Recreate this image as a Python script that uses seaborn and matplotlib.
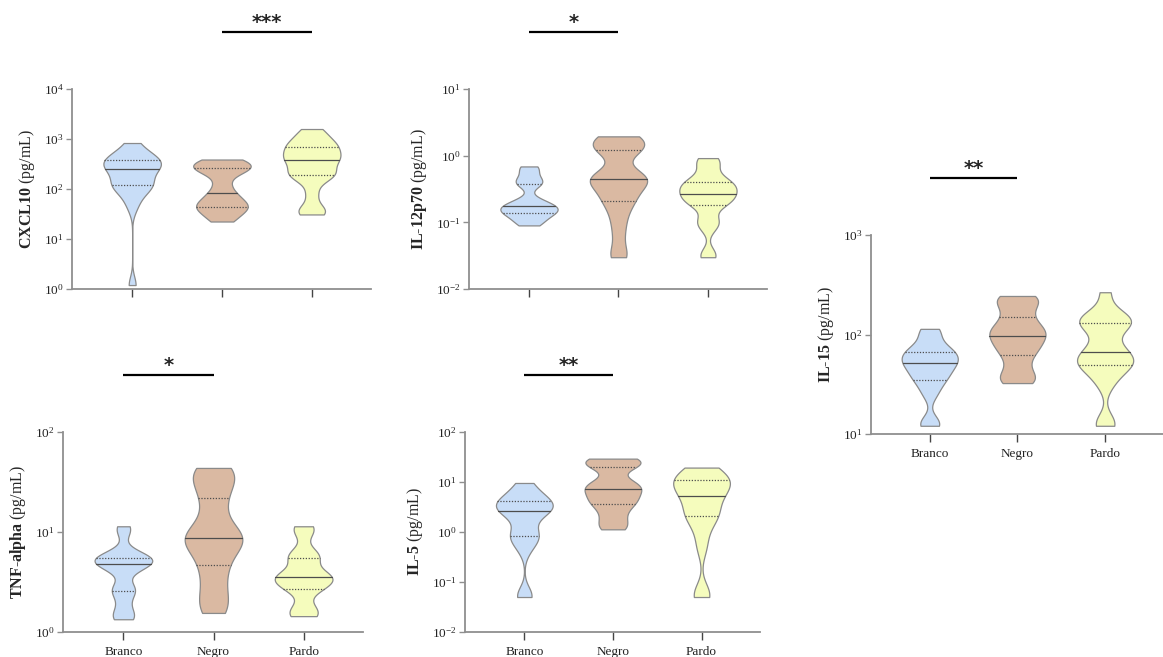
import numpy as np
import pandas as pd
import matplotlib
matplotlib.use("Agg")
import matplotlib.pyplot as plt
import matplotlib.transforms as mtransforms
from matplotlib.collections import LineCollection, PolyCollection
from matplotlib.ticker import LogLocator, LogFormatterSciNotation, NullLocator
import seaborn as sns

groups = ["Branco", "Negro", "Pardo"]
colors = ["#c8ddf7", "#dab9a2", "#f5fcbd"]

# CXCL10 (pg/mL)
cxcl10_branco = [1.2, 44.7, 70.8, 100, 112, 126, 132, 141, 224, 251, 263, 282, 316, 355, 398, 417, 447, 562, 832]
cxcl10_negro = [22.4, 28.2, 35.5, 39.8, 44.7, 50.1, 56.2, 70.8, 85.1, 126, 200, 240, 263, 282, 316, 355, 389]
cxcl10_pardo = [31, 35, 42, 79, 141, 191, 195, 200, 251, 316, 372, 398, 447, 501, 562, 708, 759, 794, 1000, 1259, 1585]

# IL-12p70 (pg/mL)
il12_branco = [0.09, 0.10, 0.112, 0.126, 0.135, 0.141, 0.151, 0.158, 0.166, 0.178, 0.182, 0.2, 0.224, 0.355, 0.398, 0.417, 0.5, 0.63, 0.69]
il12_negro = [0.03, 0.035, 0.063, 0.1, 0.141, 0.2, 0.211, 0.251, 0.316, 0.355, 0.398, 0.447, 0.462, 0.479, 0.501, 0.562, 1.12, 1.2, 1.26, 1.41, 1.58, 1.78, 1.91, 1.95]
il12_pardo = [0.03, 0.034, 0.083, 0.1, 0.112, 0.18, 0.19, 0.209, 0.224, 0.251, 0.269, 0.295, 0.316, 0.347, 0.372, 0.398, 0.427, 0.5, 0.708, 0.832, 0.92]

# TNF-alpha (pg/mL)
tnf_branco = [1.34, 1.41, 1.58, 2.0, 2.51, 2.67, 2.82, 3.98, 4.47, 4.79, 4.9, 5.01, 5.25, 5.5, 5.53, 5.75, 6.31, 10.0, 11.4]
tnf_negro = [1.55, 1.91, 2.51, 3.55, 4.71, 6.03, 7.41, 8.13, 8.77, 9.55, 11.2, 15.8, 22.0, 28.2, 35.5, 39.8, 43.7]
tnf_pardo = [1.44, 1.51, 1.78, 2.63, 2.77, 3.16, 3.39, 3.52, 3.63, 3.98, 5.25, 5.71, 6.31, 10.0, 11.4]

# IL-5 (pg/mL)
il5_branco = [0.05, 0.056, 0.447, 0.708, 0.794, 0.891, 1.26, 2.24, 2.63, 2.67, 2.82, 3.16, 3.98, 4.17, 4.27, 5.01, 7.08, 9.55]
il5_negro = [1.13, 1.41, 2.0, 2.82, 3.69, 4.17, 5.01, 6.03, 7.36, 7.94, 8.91, 11.2, 19.6, 22.4, 25.1, 27.5, 29.3]
il5_pardo = [0.05, 0.06, 0.501, 1.12, 2.06, 2.14, 2.51, 3.98, 5.25, 6.31, 7.59, 8.91, 10.8, 11.2, 12.6, 15.8, 19.4]

# IL-15 (pg/mL)
il15_branco = [12.1, 13.2, 25.1, 31.6, 36.5, 39.8, 44.7, 50.1, 52.7, 56.2, 60.3, 66.1, 70.8, 75.9, 100, 114]
il15_negro = [32.5, 35.5, 39.8, 50.1, 62.5, 70.8, 79.4, 89.1, 97.7, 105, 115, 126, 149, 178, 214, 229, 244]
il15_pardo = [12.1, 13.2, 31.6, 39.8, 48.5, 50.1, 52.5, 56.2, 63.1, 69.7, 79.4, 112, 126, 132, 141, 150, 158, 266]

sns.set_style("ticks")
plt.rcParams["font.family"] = ["Liberation Serif", "DejaVu Serif"]
plt.rcParams["mathtext.fontset"] = "custom"
plt.rcParams["mathtext.rm"] = "Liberation Serif"
plt.rcParams["mathtext.bf"] = "Liberation Serif:bold"
plt.rcParams["mathtext.it"] = "Liberation Serif:italic"

# label, data, y limits, significance (group a, group b, stars), axes rect, x labels shown
panels = [
    (r"$\mathbf{CXCL10}$ (pg/mL)", [cxcl10_branco, cxcl10_negro, cxcl10_pardo], (1, 1e4),
     (1, 2, "***"), [0.0619, 0.5601, 0.2571, 0.3044], False),
    (r"$\mathbf{IL}$-$\mathbf{12p70}$ (pg/mL)", [il12_branco, il12_negro, il12_pardo], (1e-2, 1e1),
     (0, 1, "*"), [0.4033, 0.5601, 0.2562, 0.3044], False),
    (r"$\mathbf{TNF}$-$\mathbf{alpha}$ (pg/mL)", [tnf_branco, tnf_negro, tnf_pardo], (1, 1e2),
     (0, 1, "*"), [0.0542, 0.0381, 0.2580, 0.3044], True),
    (r"$\mathbf{IL}$-$\mathbf{5}$ (pg/mL)", [il5_branco, il5_negro, il5_pardo], (1e-2, 1e2),
     (0, 1, "**"), [0.3998, 0.0381, 0.2537, 0.3044], True),
    (r"$\mathbf{IL}$-$\mathbf{15}$ (pg/mL)", [il15_branco, il15_negro, il15_pardo], (1e1, 1e3),
     (0, 1, "**"), [0.7489, 0.3394, 0.2511, 0.3029], True),
]

fig = plt.figure(figsize=(11.63, 6.57), dpi=100)

for label, values, ylim, sig, rect, show_x in panels:
    ax = fig.add_axes(rect)
    df = pd.DataFrame({
        "group": np.repeat(groups, [len(v) for v in values]),
        "value": np.concatenate(values),
    })
    n_lines = len(ax.lines)
    n_colls = len(ax.collections)
    sns.violinplot(data=df, x="group", y="value", hue="group", order=groups, hue_order=groups,
                   palette=colors, saturation=1, log_scale=True, cut=0, inner="quart",
                   density_norm="width", width=0.64, bw_adjust=0.5,
                   linewidth=0.9, linecolor="#8a8a8a",
                   inner_kws=dict(color="#4d4d4d", linewidth=0.9),
                   legend=False, ax=ax)

    # median solid, quartiles dotted
    dotted = (0, (1, 1.3))
    new_lines = ax.lines[n_lines:]
    if len(new_lines) and len(new_lines) % 3 == 0:
        for k, ln in enumerate(new_lines):
            ln.set_linestyle("-" if k % 3 == 1 else dotted)
    for coll in ax.collections[n_colls:]:
        if isinstance(coll, LineCollection) and not isinstance(coll, PolyCollection):
            nseg = len(coll.get_segments())
            coll.set_linestyles(["-" if k % 3 == 1 else dotted for k in range(nseg)])

    ax.set_yscale("log")
    ax.yaxis.set_major_locator(LogLocator(base=10, numticks=10))
    ax.yaxis.set_major_formatter(LogFormatterSciNotation())
    ax.yaxis.set_minor_locator(NullLocator())
    ax.set_xlabel("")
    ax.set_ylabel(label, fontsize=11.5, labelpad=5)
    if not show_x:
        ax.set_xticklabels([])

    sns.despine(ax=ax)
    for side in ["left", "bottom"]:
        ax.spines[side].set_color("#8f8f8f")
        ax.spines[side].set_linewidth(1.3)
    ax.tick_params(axis="y", colors="#8f8f8f", length=4, width=1, labelsize=9.5,
                   labelcolor="#222222", pad=2)
    ax.tick_params(axis="x", colors="#444444", length=6, width=1, labelsize=9.5,
                   labelcolor="#222222", pad=4)

    # significance bar
    a, b, stars = sig
    trans = mtransforms.blended_transform_factory(ax.transData, ax.transAxes)
    ax.plot([a, b], [1.285, 1.285], transform=trans, color="black", lw=1.6,
            clip_on=False, solid_capstyle="butt")
    ax.annotate(stars, xy=((a + b) / 2, 1.285), xycoords=trans, xytext=(0, 3),
                textcoords="offset points", ha="center", va="baseline",
                fontsize=14, fontweight="bold", family="DejaVu Sans", annotation_clip=False)

    ax.set_xlim(-0.67, 2.66)
    ax.set_ylim(*ylim)

fig.savefig("out.png", dpi=100)
